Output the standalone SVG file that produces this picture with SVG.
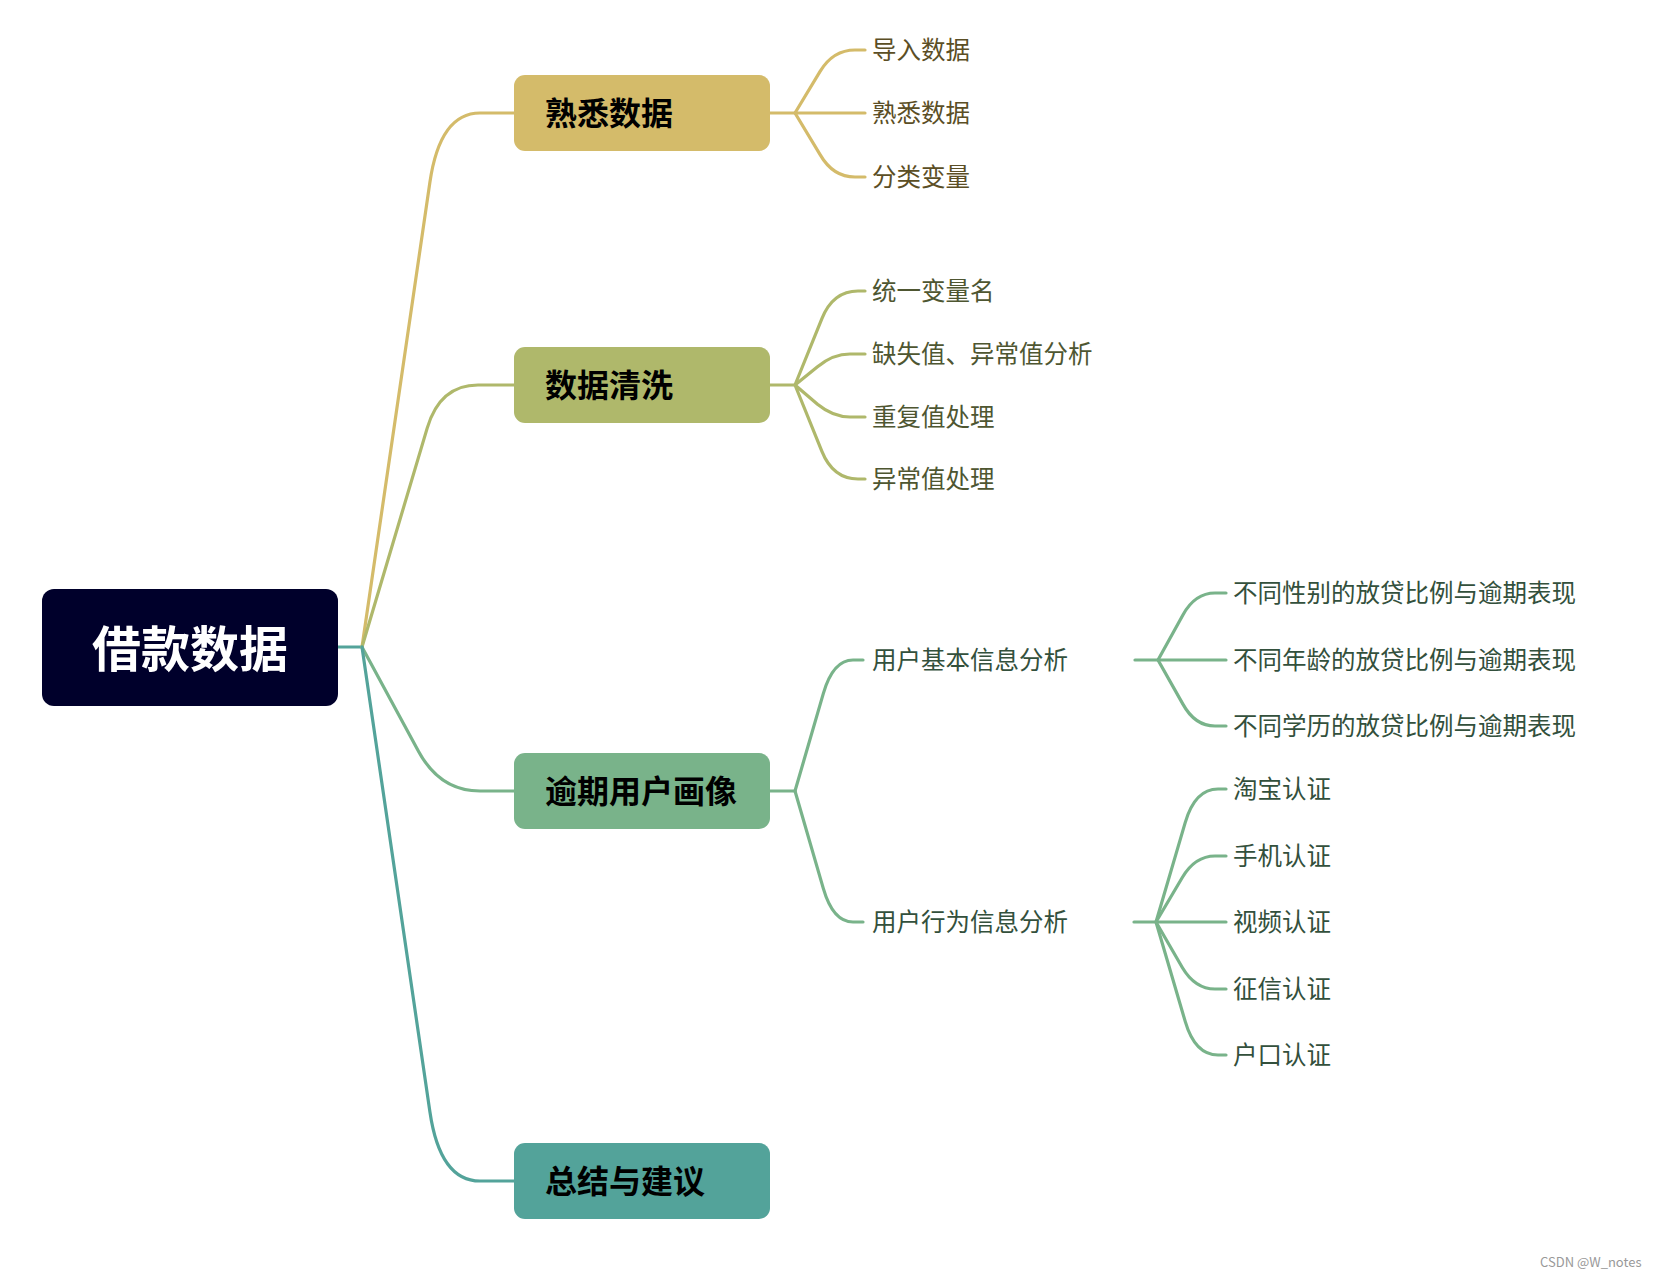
<svg xmlns="http://www.w3.org/2000/svg" width="1653" height="1277" viewBox="0 0 1653 1277">
<style>
text{font-family:"Noto Sans CJK SC","Noto Sans",sans-serif}
.c{fill:none;stroke-width:3.2;stroke-linecap:round;stroke-linejoin:round}
.c1{stroke:#D4BB6A}.c2{stroke:#AFB86B}.c3{stroke:#79B38A}.c4{stroke:#53A39A}
.t1{font-size:32px;font-weight:bold;fill:#000}
.t2{font-size:24.5px}
.f1{fill:#5B4E25}.f2{fill:#4E5631}.f3{fill:#33503C}
</style>
<rect width="1653" height="1277" fill="#fff"/>
<g id="connectors">
<path class="c c4" d="M338,647 H362"/>
<path class="c c1" d="M362,647 L429.9,182.3 Q440,113 480,113 H514"/>
<path class="c c2" d="M362,647 L427.2,428.1 Q440,385 478,385 H514"/>
<path class="c c3" d="M362,647 L418.6,751.4 Q440,791 480,791 H514"/>
<path class="c c4" d="M362,647 L429.9,1111.7 Q440,1181 480,1181 H514"/>
<path class="c c1" d="M770,113 H865"/>
<path class="c c1" d="M795,113 L820.1,71.4 Q833,50 855,50 H865"/>
<path class="c c1" d="M795,113 L820.1,154.6 Q833,177 855,177 H865"/>
<path class="c c2" d="M770,385 H795"/>
<path class="c c2" d="M795,385 L821.8,318.8 Q833,291 858,291 H865"/>
<path class="c c2" d="M795,385 L817.5,366.7 Q833,354 850,354 H865"/>
<path class="c c2" d="M795,385 L817.5,404.3 Q833,417 850,417 H865"/>
<path class="c c2" d="M795,385 L821.8,451.2 Q833,479 858,479 H865"/>
<path class="c c3" d="M770,791 H795"/>
<path class="c c3" d="M795,791 L823.3,693.6 Q833,660 853,660 H863"/>
<path class="c c3" d="M795,791 L823.3,888.4 Q833,922 853,922 H863"/>
<path class="c c3" d="M1135,660 H1226"/>
<path class="c c3" d="M1158,660 L1182.9,614.9 Q1195,593 1215,593 H1226"/>
<path class="c c3" d="M1158,660 L1182.9,704.1 Q1195,726 1215,726 H1226"/>
<path class="c c3" d="M1134,922 H1226"/>
<path class="c c3" d="M1156,922 L1185.2,822.6 Q1195,789 1218,789 H1226"/>
<path class="c c3" d="M1156,922 L1182.3,877.5 Q1195,856 1215,856 H1226"/>
<path class="c c3" d="M1156,922 L1182.3,967.5 Q1195,989 1215,989 H1226"/>
<path class="c c3" d="M1156,922 L1185.2,1021.4 Q1195,1055 1218,1055 H1226"/>
</g>
<g id="root">
<rect x="42" y="589" width="296" height="117" rx="12" fill="#00002B"/>
<text x="190" y="645" font-size="49" font-weight="bold" fill="#fff" text-anchor="middle" dominant-baseline="central">借款数据</text>
</g>
<g id="n1">
<rect x="514" y="75" width="256" height="76" rx="11" fill="#D4BB6A"/>
<text class="t1" x="545" y="111" dominant-baseline="central">熟悉数据</text>
</g>
<g id="n1a"><text class="t2 f1" x="872" y="48.5" dominant-baseline="central">导入数据</text></g>
<g id="n1b"><text class="t2 f1" x="872" y="111.5" dominant-baseline="central">熟悉数据</text></g>
<g id="n1c"><text class="t2 f1" x="872" y="175.5" dominant-baseline="central">分类变量</text></g>
<g id="n2">
<rect x="514" y="347" width="256" height="76" rx="11" fill="#AFB86B"/>
<text class="t1" x="545" y="383" dominant-baseline="central">数据清洗</text>
</g>
<g id="n2a"><text class="t2 f2" x="872" y="289.5" dominant-baseline="central">统一变量名</text></g>
<g id="n2b"><text class="t2 f2" x="872" y="352.5" dominant-baseline="central">缺失值、异常值分析</text></g>
<g id="n2c"><text class="t2 f2" x="872" y="415.5" dominant-baseline="central">重复值处理</text></g>
<g id="n2d"><text class="t2 f2" x="872" y="477.5" dominant-baseline="central">异常值处理</text></g>
<g id="n3">
<rect x="514" y="753" width="256" height="76" rx="11" fill="#79B38A"/>
<text class="t1" x="545" y="789" dominant-baseline="central">逾期用户画像</text>
</g>
<g id="n3a"><text class="t2 f3" x="872" y="658.5" dominant-baseline="central">用户基本信息分析</text></g>
<g id="n3a1"><text class="t2 f3" x="1233" y="591.5" dominant-baseline="central">不同性别的放贷比例与逾期表现</text></g>
<g id="n3a2"><text class="t2 f3" x="1233" y="658.5" dominant-baseline="central">不同年龄的放贷比例与逾期表现</text></g>
<g id="n3a3"><text class="t2 f3" x="1233" y="724.5" dominant-baseline="central">不同学历的放贷比例与逾期表现</text></g>
<g id="n3b"><text class="t2 f3" x="872" y="920.5" dominant-baseline="central">用户行为信息分析</text></g>
<g id="n3b1"><text class="t2 f3" x="1233" y="787.5" dominant-baseline="central">淘宝认证</text></g>
<g id="n3b2"><text class="t2 f3" x="1233" y="854.5" dominant-baseline="central">手机认证</text></g>
<g id="n3b3"><text class="t2 f3" x="1233" y="920.5" dominant-baseline="central">视频认证</text></g>
<g id="n3b4"><text class="t2 f3" x="1233" y="987.5" dominant-baseline="central">征信认证</text></g>
<g id="n3b5"><text class="t2 f3" x="1233" y="1053.5" dominant-baseline="central">户口认证</text></g>
<g id="n4">
<rect x="514" y="1143" width="256" height="76" rx="11" fill="#53A39A"/>
<text class="t1" x="545" y="1179" dominant-baseline="central">总结与建议</text>
</g>
<text x="1540" y="1267" font-family="Liberation Sans, Arial, sans-serif" font-size="13" fill="#999">CSDN @W_notes</text>
</svg>
